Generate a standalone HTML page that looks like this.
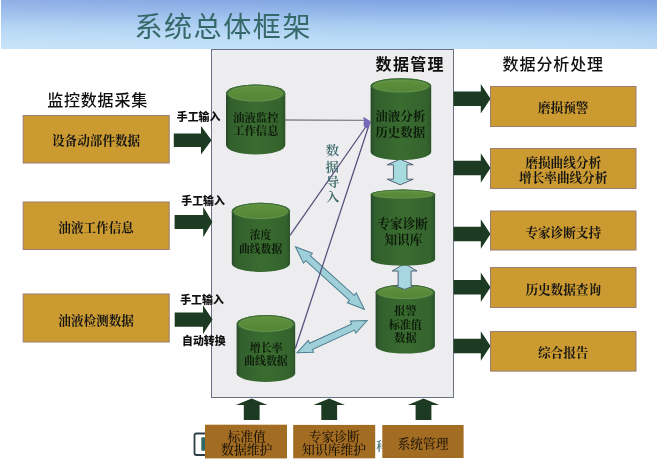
<!DOCTYPE html>
<html lang="zh-CN"><head><meta charset="utf-8"><title>系统总体框架</title>
<style>
html,body{margin:0;padding:0;background:#fff;}
body{width:659px;height:469px;overflow:hidden;position:relative;}
svg{display:block;position:absolute;left:0;top:0;will-change:transform;}
</style></head><body>
<svg width="659" height="469" viewBox="0 0 659 469">
<defs>
<linearGradient id="hdr" x1="0" y1="0" x2="0" y2="1">
<stop offset="0" stop-color="#80a4e2"/><stop offset="0.25" stop-color="#92b6ea"/><stop offset="0.5" stop-color="#a8ccf2"/><stop offset="0.75" stop-color="#b7d9f6"/><stop offset="1" stop-color="#c1e0f8"/>
</linearGradient>
<linearGradient id="hdrx" x1="0" y1="0" x2="1" y2="0">
<stop offset="0" stop-color="#ffffff" stop-opacity="0.12"/><stop offset="0.6" stop-color="#ffffff" stop-opacity="0.0"/><stop offset="1" stop-color="#4a74c8" stop-opacity="0.05"/>
</linearGradient>
<linearGradient id="cylbody" x1="0" y1="0" x2="1" y2="0">
<stop offset="0" stop-color="#27492b"/><stop offset="0.07" stop-color="#32602d"/><stop offset="0.5" stop-color="#3a6c30"/><stop offset="0.93" stop-color="#34632d"/><stop offset="1" stop-color="#2a5329"/>
</linearGradient>
<linearGradient id="cyltop" x1="0" y1="0" x2="0" y2="1">
<stop offset="0" stop-color="#5f903c"/><stop offset="1" stop-color="#548536"/>
</linearGradient>
</defs>

<rect x="1" y="0" width="656" height="49" fill="url(#hdr)"/>
<rect x="1" y="0" width="656" height="49" fill="url(#hdrx)"/>
<text x="223.2" y="27" font-family='"Liberation Sans", "Noto Sans CJK SC", sans-serif' font-size="28" font-weight="400" fill="#356868" text-anchor="middle" dominant-baseline="central" letter-spacing="1.6">系统总体框架</text>
<rect x="211.5" y="49.5" width="242" height="348" fill="#ededf0" stroke="#6a7084" stroke-width="1"/>
<text x="97.6" y="100.5" font-family='"Liberation Sans", "Noto Sans CJK SC", sans-serif' font-size="16" font-weight="500" fill="#111" text-anchor="middle" dominant-baseline="central" letter-spacing="0.8">监控数据采集</text>
<text x="410.2" y="64.6" font-family='"Liberation Sans", "Noto Sans CJK SC", sans-serif' font-size="16" font-weight="bold" fill="#111" text-anchor="middle" dominant-baseline="central" letter-spacing="1.3">数据管理</text>
<text x="553.3" y="64.6" font-family='"Liberation Sans", "Noto Sans CJK SC", sans-serif' font-size="16" font-weight="500" fill="#111" text-anchor="middle" dominant-baseline="central" letter-spacing="0.9">数据分析处理</text>
<rect x="23.2" y="115.5" width="146" height="47.5" fill="#cb9a30" stroke="#9a7c74" stroke-width="1"/>
<text x="96.1" y="140.6" font-family='"Liberation Serif", "Noto Serif CJK SC", serif' font-size="12.6" font-weight="bold" fill="#151515" text-anchor="middle" dominant-baseline="central" >设备动部件数据</text>
<rect x="23.2" y="202.0" width="146" height="47.5" fill="#cb9a30" stroke="#9a7c74" stroke-width="1"/>
<text x="96.1" y="228.1" font-family='"Liberation Serif", "Noto Serif CJK SC", serif' font-size="12.6" font-weight="bold" fill="#151515" text-anchor="middle" dominant-baseline="central" >油液工作信息</text>
<rect x="23.2" y="294.0" width="146" height="48.0" fill="#cb9a30" stroke="#9a7c74" stroke-width="1"/>
<text x="96.1" y="320.8" font-family='"Liberation Serif", "Noto Serif CJK SC", serif' font-size="12.6" font-weight="bold" fill="#151515" text-anchor="middle" dominant-baseline="central" >油液检测数据</text>
<path d="M173.8,133.5 L201.0,133.5 L201.0,126.05000000000001 L211.6,140.3 L201.0,154.55 L201.0,147.10000000000002 L173.8,147.10000000000002 Z" fill="#1d3a22"/>
<path d="M174.6,215.1 L203.20000000000002,215.1 L203.20000000000002,206.85 L212.4,222.1 L203.20000000000002,237.35 L203.20000000000002,229.1 L174.6,229.1 Z" fill="#1d3a22"/>
<path d="M174.7,312.5 L203.0,312.5 L203.0,305.3 L212.5,319.6 L203.0,333.90000000000003 L203.0,326.70000000000005 L174.7,326.70000000000005 Z" fill="#1d3a22"/>
<text x="198.6" y="117" font-family='"Liberation Sans", "Noto Sans CJK SC", sans-serif' font-size="10.9" font-weight="900" fill="#111" text-anchor="middle" dominant-baseline="central" >手工输入</text>
<text x="203.1" y="200.8" font-family='"Liberation Sans", "Noto Sans CJK SC", sans-serif' font-size="10.9" font-weight="900" fill="#111" text-anchor="middle" dominant-baseline="central" >手工输入</text>
<text x="202" y="299.6" font-family='"Liberation Sans", "Noto Sans CJK SC", sans-serif' font-size="10.9" font-weight="900" fill="#111" text-anchor="middle" dominant-baseline="central" >手工输入</text>
<text x="203.8" y="341" font-family='"Liberation Sans", "Noto Sans CJK SC", sans-serif' font-size="10.9" font-weight="900" fill="#111" text-anchor="middle" dominant-baseline="central" >自动转换</text>
<path d="M453.5,91.55 L480.8,91.55 L480.8,84.0 L490.5,98.8 L480.8,113.6 L480.8,106.05 L453.5,106.05 Z" fill="#1d3a22"/>
<path d="M453.5,160.75 L480.8,160.75 L480.8,153.2 L490.5,168 L480.8,182.8 L480.8,175.25 L453.5,175.25 Z" fill="#1d3a22"/>
<path d="M453.5,226.75 L480.8,226.75 L480.8,219.2 L490.5,234 L480.8,248.8 L480.8,241.25 L453.5,241.25 Z" fill="#1d3a22"/>
<path d="M453.5,279.95 L480.8,279.95 L480.8,272.4 L490.5,287.2 L480.8,302.0 L480.8,294.45 L453.5,294.45 Z" fill="#1d3a22"/>
<path d="M453.5,338.75 L480.8,338.75 L480.8,331.2 L490.5,346 L480.8,360.8 L480.8,353.25 L453.5,353.25 Z" fill="#1d3a22"/>
<rect x="490.5" y="86.5" width="145.5" height="40" fill="#cb9a30" stroke="#9a7c74" stroke-width="1"/>
<text x="563.2" y="107.8" font-family='"Liberation Serif", "Noto Serif CJK SC", serif' font-size="12.6" font-weight="bold" fill="#151515" text-anchor="middle" dominant-baseline="central" >磨损预警</text>
<rect x="490.5" y="148.5" width="145.5" height="40" fill="#cb9a30" stroke="#9a7c74" stroke-width="1"/>
<text x="563.2" y="163" font-family='"Liberation Serif", "Noto Serif CJK SC", serif' font-size="12.6" font-weight="bold" fill="#151515" text-anchor="middle" dominant-baseline="central" >磨损曲线分析</text>
<text x="563.2" y="178.2" font-family='"Liberation Serif", "Noto Serif CJK SC", serif' font-size="12.6" font-weight="bold" fill="#151515" text-anchor="middle" dominant-baseline="central" >增长率曲线分析</text>
<rect x="490.5" y="211.0" width="145.5" height="39.0" fill="#cb9a30" stroke="#9a7c74" stroke-width="1"/>
<text x="563.2" y="233.3" font-family='"Liberation Serif", "Noto Serif CJK SC", serif' font-size="12.6" font-weight="bold" fill="#151515" text-anchor="middle" dominant-baseline="central" >专家诊断支持</text>
<rect x="490.5" y="267.5" width="145.5" height="40" fill="#cb9a30" stroke="#9a7c74" stroke-width="1"/>
<text x="563.2" y="290.4" font-family='"Liberation Serif", "Noto Serif CJK SC", serif' font-size="12.6" font-weight="bold" fill="#151515" text-anchor="middle" dominant-baseline="central" >历史数据查询</text>
<rect x="490.5" y="331.5" width="145.5" height="39.60000000000002" fill="#cb9a30" stroke="#9a7c74" stroke-width="1"/>
<text x="563.2" y="353.4" font-family='"Liberation Serif", "Noto Serif CJK SC", serif' font-size="12.6" font-weight="bold" fill="#151515" text-anchor="middle" dominant-baseline="central" >综合报告</text>
<path d="M0.00,0.00 L17.00,-6.60 L17.00,-3.40 L76.10,-3.40 L76.10,-6.60 L93.10,0.00 L76.10,6.60 L76.10,3.40 L17.00,3.40 L17.00,6.60 Z" transform="translate(295.4,246.8) rotate(42.17)" fill="#9fd0d9" stroke="#4f7f90" stroke-width="1" stroke-linejoin="miter"/>
<path d="M0.00,0.00 L15.50,-6.60 L15.50,-3.40 L61.82,-3.40 L61.82,-6.60 L77.32,0.00 L61.82,6.60 L61.82,3.40 L15.50,3.40 L15.50,6.60 Z" transform="translate(296.9,352.8) rotate(-24.61)" fill="#9fd0d9" stroke="#4f7f90" stroke-width="1" stroke-linejoin="miter"/>
<line x1="285" y1="120" x2="366" y2="120.3" stroke="#84848f" stroke-width="1.3"/>
<line x1="290" y1="235.4" x2="368.5" y2="123" stroke="#564e7c" stroke-width="1.25"/>
<line x1="295.3" y1="348.5" x2="369" y2="125" stroke="#564e7c" stroke-width="1.25"/>
<path d="M371,121.5 L363.3,116.8 L364.5,124.5 Z" fill="#7868b8"/>
<path d="M371,122 L363.5,122 L363.8,126.5 L367.8,129 Z" fill="#7868b8"/>
<path d="M0.00,0.00 L5.60,-13.00 L5.60,-6.75 L20.00,-6.75 L20.00,-13.00 L25.60,0.00 L20.00,13.00 L20.00,6.75 L5.60,6.75 L5.60,13.00 Z" transform="translate(400.2,159.2) rotate(90.00)" fill="#a6dbe0" stroke="#4f6272" stroke-width="1" stroke-linejoin="miter"/>
<path d="M226,93.4 L226,145.0 A29.650000000000006,9.5 0 0 0 285.3,145.0 L285.3,93.4 A29.650000000000006,8.9 0 0 0 226,93.4 Z" fill="url(#cylbody)"/><ellipse cx="255.65" cy="93.4" rx="29.650000000000006" ry="8.9" fill="#3e6f34"/><ellipse cx="255.65" cy="93.60000000000001" rx="27.050000000000004" ry="7.5" fill="url(#cyltop)" stroke="#7aa45e" stroke-opacity="0.75" stroke-width="0.8"/>
<path d="M370.6,85.8 L370.6,152.0 A30.299999999999983,8.0 0 0 0 431.2,152.0 L431.2,85.8 A30.299999999999983,7.5 0 0 0 370.6,85.8 Z" fill="url(#cylbody)"/><ellipse cx="400.9" cy="85.8" rx="30.299999999999983" ry="7.5" fill="#3e6f34"/><ellipse cx="400.9" cy="86.0" rx="27.499999999999982" ry="6.0" fill="url(#cyltop)" stroke="#7aa45e" stroke-opacity="0.75" stroke-width="0.8"/>
<path d="M375.6,292.3 L375.6,346.1 A29.649999999999977,7.5 0 0 0 434.9,346.1 L434.9,292.3 A29.649999999999977,7.5 0 0 0 375.6,292.3 Z" fill="url(#cylbody)"/><ellipse cx="405.25" cy="292.3" rx="29.649999999999977" ry="7.5" fill="#3e6f34"/><ellipse cx="405.25" cy="292.5" rx="27.049999999999976" ry="6.1" fill="url(#cyltop)" stroke="#7aa45e" stroke-opacity="0.75" stroke-width="0.8"/>
<path d="M404.6,263.6 L417,271 L411.1,271 L411.1,286 L414,286 L404.6,289.4 L395.2,286 L398.1,286 L398.1,271 L392.2,271 Z" fill="#a6d6e0" stroke="#4f6272" stroke-width="1" stroke-linejoin="miter"/>
<path d="M370.8,194.35 L370.8,259.3 A32.150000000000006,6.5 0 0 0 435.1,259.3 L435.1,194.35 A32.150000000000006,4.75 0 0 0 370.8,194.35 Z" fill="url(#cylbody)"/><ellipse cx="402.95000000000005" cy="194.35" rx="32.150000000000006" ry="4.75" fill="#3e6f34"/><ellipse cx="402.95000000000005" cy="194.54999999999998" rx="29.550000000000004" ry="3.55" fill="url(#cyltop)" stroke="#7aa45e" stroke-opacity="0.75" stroke-width="0.8"/>
<path d="M231.8,211.3 L231.8,263.5 A29.099999999999994,8.5 0 0 0 290,263.5 L290,211.3 A29.099999999999994,8.5 0 0 0 231.8,211.3 Z" fill="url(#cylbody)"/><ellipse cx="260.9" cy="211.3" rx="29.099999999999994" ry="8.5" fill="#3e6f34"/><ellipse cx="260.9" cy="211.5" rx="26.499999999999993" ry="7.1" fill="url(#cyltop)" stroke="#7aa45e" stroke-opacity="0.75" stroke-width="0.8"/>
<path d="M236.6,323.85 L236.6,373.25 A29.299999999999997,8.75 0 0 0 295.2,373.25 L295.2,323.85 A29.299999999999997,8.75 0 0 0 236.6,323.85 Z" fill="url(#cylbody)"/><ellipse cx="265.9" cy="323.85" rx="29.299999999999997" ry="8.75" fill="#3e6f34"/><ellipse cx="265.9" cy="324.05" rx="26.699999999999996" ry="7.35" fill="url(#cyltop)" stroke="#7aa45e" stroke-opacity="0.75" stroke-width="0.8"/>
<text x="255.8" y="117.6" font-family='"Liberation Serif", "Noto Serif CJK SC", serif' font-size="11.4" font-weight="700" fill="#0d1a0a" text-anchor="middle" dominant-baseline="central" >油液监控</text>
<text x="255.8" y="130.7" font-family='"Liberation Serif", "Noto Serif CJK SC", serif' font-size="11.4" font-weight="700" fill="#0d1a0a" text-anchor="middle" dominant-baseline="central" >工作信息</text>
<text x="400.3" y="117.3" font-family='"Liberation Serif", "Noto Serif CJK SC", serif' font-size="12.5" font-weight="700" fill="#0d1a0a" text-anchor="middle" dominant-baseline="central" >油液分析</text>
<text x="400.3" y="132.7" font-family='"Liberation Serif", "Noto Serif CJK SC", serif' font-size="12.5" font-weight="700" fill="#0d1a0a" text-anchor="middle" dominant-baseline="central" >历史数据</text>
<text x="402.7" y="223.6" font-family='"Liberation Serif", "Noto Serif CJK SC", serif' font-size="12.6" font-weight="700" fill="#0d1a0a" text-anchor="middle" dominant-baseline="central" >专家诊断</text>
<text x="403.4" y="239.8" font-family='"Liberation Serif", "Noto Serif CJK SC", serif' font-size="12.6" font-weight="700" fill="#0d1a0a" text-anchor="middle" dominant-baseline="central" >知识库</text>
<text x="405.4" y="311.2" font-family='"Liberation Serif", "Noto Serif CJK SC", serif' font-size="11.1" font-weight="bold" fill="#0d1a0a" text-anchor="middle" dominant-baseline="central" >报警</text>
<text x="405.3" y="325" font-family='"Liberation Serif", "Noto Serif CJK SC", serif' font-size="11.1" font-weight="bold" fill="#0d1a0a" text-anchor="middle" dominant-baseline="central" >标准值</text>
<text x="405.4" y="337.8" font-family='"Liberation Serif", "Noto Serif CJK SC", serif' font-size="11.1" font-weight="bold" fill="#0d1a0a" text-anchor="middle" dominant-baseline="central" >数据</text>
<text x="260.6" y="234.8" font-family='"Liberation Serif", "Noto Serif CJK SC", serif' font-size="10.8" font-weight="700" fill="#0d1a0a" text-anchor="middle" dominant-baseline="central" >浓度</text>
<text x="260.6" y="248.8" font-family='"Liberation Serif", "Noto Serif CJK SC", serif' font-size="10.8" font-weight="700" fill="#0d1a0a" text-anchor="middle" dominant-baseline="central" >曲线数据</text>
<text x="266.2" y="348.3" font-family='"Liberation Serif", "Noto Serif CJK SC", serif' font-size="10.9" font-weight="700" fill="#0d1a0a" text-anchor="middle" dominant-baseline="central" >增长率</text>
<text x="265.9" y="361.3" font-family='"Liberation Serif", "Noto Serif CJK SC", serif' font-size="10.9" font-weight="700" fill="#0d1a0a" text-anchor="middle" dominant-baseline="central" >曲线数据</text>
<text x="332.4" y="151" font-family='"Liberation Serif", "Noto Serif CJK SC", serif' font-size="13.4" font-weight="600" fill="#3c6868" text-anchor="middle" dominant-baseline="central" transform="rotate(-3 332.4 151)">数</text>
<text x="332.3" y="167.4" font-family='"Liberation Serif", "Noto Serif CJK SC", serif' font-size="13.4" font-weight="600" fill="#3c6868" text-anchor="middle" dominant-baseline="central" transform="rotate(-3 332.3 167.4)">据</text>
<text x="332.8" y="182.3" font-family='"Liberation Serif", "Noto Serif CJK SC", serif' font-size="13.4" font-weight="600" fill="#3c6868" text-anchor="middle" dominant-baseline="central" transform="rotate(-3 332.8 182.3)">导</text>
<text x="332.5" y="197.1" font-family='"Liberation Serif", "Noto Serif CJK SC", serif' font-size="13.4" font-weight="600" fill="#3c6868" text-anchor="middle" dominant-baseline="central" transform="rotate(-3 332.5 197.1)">入</text>
<path d="M205,433.5 L196.5,433.5 Q194.5,433.5 194.5,435.5 L194.5,453 Q194.5,455 196.5,455 L205,455" fill="none" stroke="#2d4048" stroke-width="1.8"/>
<rect x="201.3" y="437.3" width="4" height="13.4" fill="#2b6a68"/>
<text x="382" y="446.6" font-family='"Liberation Serif", "Noto Serif CJK SC", serif' font-size="12" font-weight="600" fill="#3f6e72" text-anchor="middle" dominant-baseline="central" >科</text>
<path d="M251.7,398.6 L267.45,404.90000000000003 L259.59999999999997,404.90000000000003 L259.59999999999997,420 L243.79999999999998,420 L243.79999999999998,404.90000000000003 L235.95,404.90000000000003 Z" fill="#1d3a22"/>
<path d="M329.2,398.6 L344.95,404.90000000000003 L337.09999999999997,404.90000000000003 L337.09999999999997,420 L321.3,420 L321.3,404.90000000000003 L313.45,404.90000000000003 Z" fill="#1d3a22"/>
<path d="M423.5,398.6 L439.25,404.90000000000003 L431.4,404.90000000000003 L431.4,420 L415.6,420 L415.6,404.90000000000003 L407.75,404.90000000000003 Z" fill="#1d3a22"/>
<rect x="205" y="424.7" width="82" height="33.7" fill="#a26c22"/>
<rect x="293.2" y="424.9" width="82" height="33.4" fill="#a26c22"/>
<rect x="382.3" y="425" width="81.3" height="33" fill="#a26c22"/>
<text x="246.7" y="436.7" font-family='"Liberation Serif", "Noto Serif CJK SC", serif' font-size="12.8" font-weight="500" fill="#1f1508" text-anchor="middle" dominant-baseline="central" >标准值</text>
<text x="246.7" y="450.3" font-family='"Liberation Serif", "Noto Serif CJK SC", serif' font-size="12.8" font-weight="500" fill="#1f1508" text-anchor="middle" dominant-baseline="central" >数据维护</text>
<text x="334.3" y="436.7" font-family='"Liberation Serif", "Noto Serif CJK SC", serif' font-size="12.8" font-weight="500" fill="#1f1508" text-anchor="middle" dominant-baseline="central" >专家诊断</text>
<text x="334.1" y="450.2" font-family='"Liberation Serif", "Noto Serif CJK SC", serif' font-size="12.8" font-weight="500" fill="#1f1508" text-anchor="middle" dominant-baseline="central" >知识库维护</text>
<text x="423" y="443.6" font-family='"Liberation Serif", "Noto Serif CJK SC", serif' font-size="12.8" font-weight="500" fill="#1f1508" text-anchor="middle" dominant-baseline="central" >系统管理</text>
</svg></body></html>
